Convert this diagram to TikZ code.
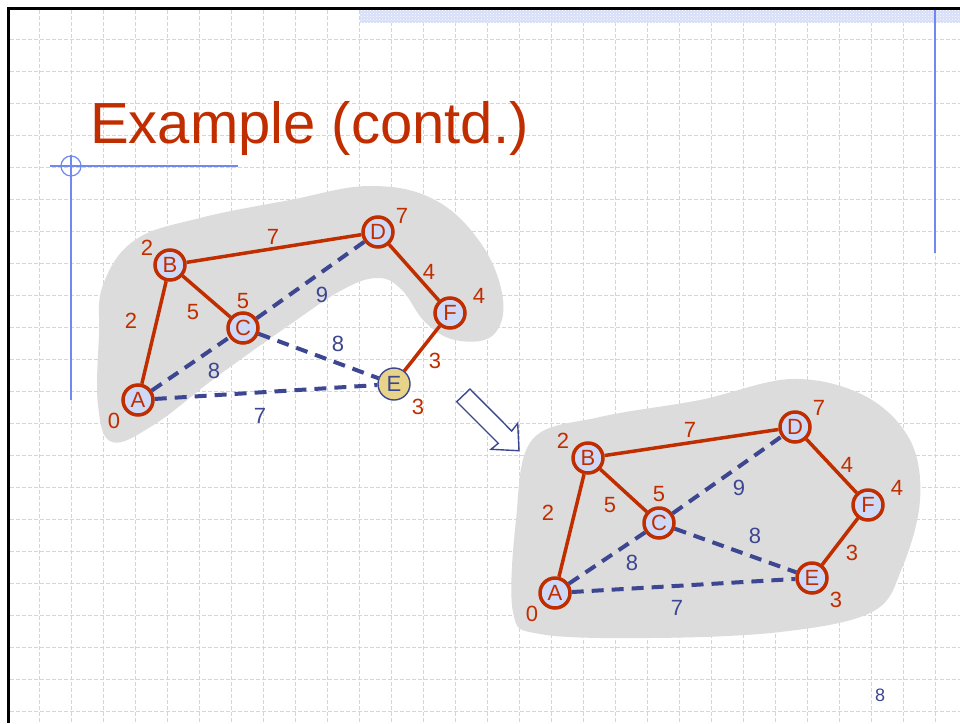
\documentclass[tikz,border=0pt]{standalone}
\usepackage{fontspec}
\setmainfont{Liberation Sans}
\usetikzlibrary{patterns}
\definecolor{tred}{RGB}{192,46,0}
\definecolor{tblue}{RGB}{60,70,145}
\definecolor{vfill}{RGB}{205,217,247}
\definecolor{vyellow}{RGB}{232,212,136}
\definecolor{blobgray}{RGB}{220,220,220}
\definecolor{decoblue}{RGB}{112,136,240}
\definecolor{gridblue}{RGB}{202,213,246}
\definecolor{barblue}{RGB}{214,222,248}
\begin{document}
\begin{tikzpicture}[x=1pt,y=-1pt,
  gridline/.style={gridblue, line width=0.8pt, dash pattern=on 4pt off 2pt},
  vertex/.style={circle, draw=tred, line width=3.5pt, fill=vfill, minimum size=30pt,
    inner sep=0pt, text=tred, font=\fontsize{22}{24}\selectfont},
  newvertex/.style={vertex, draw=tblue, line width=1.4pt, fill=vyellow, text=tblue, minimum size=32pt},
  dist/.style={text=tred, inner sep=0pt, font=\fontsize{22}{24}\selectfont},
  wred/.style={text=tred, inner sep=0pt, font=\fontsize{22}{24}\selectfont},
  wblue/.style={text=tblue, inner sep=0pt, font=\fontsize{22}{24}\selectfont},
  tree/.style={tred, line width=3.5pt},
  cand/.style={tblue, line width=4pt, dash pattern=on 12pt off 8pt}]
\useasboundingbox (0,0) rectangle (960,723);
\fill[white] (0,0) rectangle (960,723);

% background grid
\foreach \x in {39,71,...,935} \draw[gridline] (\x,10) -- (\x,723);
\foreach \y in {39,71,...,711} \draw[gridline] (10,\y) -- (960,\y);

% top ribbon
\fill[barblue] (360,10) rectangle (960,23);
\fill[pattern=crosshatch dots, pattern color=white] (360,10) rectangle (960,23);

% slide frame
\draw[black, line width=3pt] (8,723) -- (8,8) -- (960,8);

% decorative rules
\draw[decoblue, line width=1.4pt] (50,166) -- (238,166);
\draw[decoblue, line width=2pt] (71,155) -- (71,400);
\draw[decoblue, line width=1.2pt] (71,166) circle (10);
\draw[decoblue, line width=2pt] (935,10) -- (935,253);

% title
\node[anchor=base west, inner sep=0pt, text=tred, font=\fontsize{58}{64}\selectfont]
  (title) at (90,143) {Example (contd.)};

% cloud behind the left graph
\fill[blobgray] plot[smooth cycle, tension=0.65] coordinates {
  (103,285) (135,240) (200,218) (290,200) (370,186) (435,200) (482,245)
  (503,300) (492,336) (455,340) (425,322) (402,290) (378,278) (342,290)
  (285,328) (215,378) (155,424) (112,442) (98,405) (99,335)};

% cloud behind the right graph
\fill[blobgray] plot[smooth cycle, tension=0.6] coordinates {
  (532,440) (600,417) (700,400) (792,379) (865,396) (910,440) (920,500)
  (902,568) (872,612) (780,632) (650,638) (540,634) (513,612) (516,520)};

% left graph vertices
\node[vertex] (A1) at (138,400) {A};
\node[vertex] (B1) at (170,265) {B};
\node[vertex] (C1) at (243,328) {C};
\node[vertex] (D1) at (378,232) {D};
\node[vertex] (F1) at (450,313) {F};
\node[newvertex] (E1) at (394,384) {E};

% left graph edges
\draw[tree] (A1) -- (B1);
\draw[tree] (B1) -- (D1);
\draw[tree] (B1) -- (C1);
\draw[tree] (D1) -- (F1);
\draw[tree] (F1) -- (E1);
\draw[cand] (C1) -- (D1);
\draw[cand] (A1) -- (C1);
\draw[cand] (C1) -- (E1);
\draw[cand] (A1) -- (E1);

% left graph distances
\node[dist] (dA1) at (114,421) {0};
\node[dist] (dB1) at (147,248) {2};
\node[dist] (dC1) at (243,301) {5};
\node[dist] (dD1) at (402,216) {7};
\node[dist] (dF1) at (479,296) {4};
\node[dist] (dE1) at (418,407) {3};

% left graph weights
\node[wred] (wAB1) at (131,321) {2};
\node[wred] (wBD1) at (273,237) {7};
\node[wred] (wBC1) at (193,312) {5};
\node[wred] (wDF1) at (429,272) {4};
\node[wred] (wFE1) at (435,361) {3};
\node[wblue] (wCD1) at (322,295) {9};
\node[wblue] (wAC1) at (214,371) {8};
\node[wblue] (wCE1) at (338,344) {8};
\node[wblue] (wAE1) at (260,416) {7};

% hollow arrow between the two stages
\draw[tblue, line width=1.4pt, fill=white, line join=miter]
  (456.7,401.7) -- (470,389) -- (511.7,431) -- (517.7,423.3) -- (519,450.7)
  -- (491,449.3) -- (498.3,443.3) -- cycle;

% right graph vertices
\node[vertex] (A2) at (555,593) {A};
\node[vertex] (B2) at (588,458) {B};
\node[vertex] (C2) at (659,523) {C};
\node[vertex] (D2) at (795,427) {D};
\node[vertex] (F2) at (868,505) {F};
\node[vertex] (E2) at (812,578) {E};

% right graph edges
\draw[tree] (A2) -- (B2);
\draw[tree] (B2) -- (D2);
\draw[tree] (B2) -- (C2);
\draw[tree] (D2) -- (F2);
\draw[tree] (F2) -- (E2);
\draw[cand] (C2) -- (D2);
\draw[cand] (A2) -- (C2);
\draw[cand] (C2) -- (E2);
\draw[cand] (A2) -- (E2);

% right graph distances
\node[dist] (dA2) at (532,614) {0};
\node[dist] (dB2) at (563,441) {2};
\node[dist] (dC2) at (659,494) {5};
\node[dist] (dD2) at (819,408) {7};
\node[dist] (dF2) at (897,488) {4};
\node[dist] (dE2) at (836,600) {3};

% right graph weights
\node[wred] (wAB2) at (548,513) {2};
\node[wred] (wBD2) at (690,430) {7};
\node[wred] (wBC2) at (610,505) {5};
\node[wred] (wDF2) at (847,465) {4};
\node[wred] (wFE2) at (852,553) {3};
\node[wblue] (wCD2) at (739,488) {9};
\node[wblue] (wAC2) at (632,563) {8};
\node[wblue] (wCE2) at (755,536) {8};
\node[wblue] (wAE2) at (677,608) {7};

% page number
\node[text=tblue, inner sep=0pt, font=\fontsize{18}{20}\selectfont] (page) at (880,695) {8};
\end{tikzpicture}
\end{document}
